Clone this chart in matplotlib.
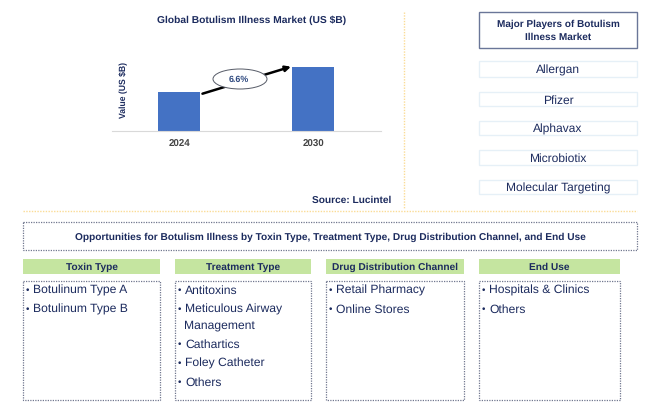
import matplotlib
matplotlib.use("Agg")
import matplotlib.pyplot as plt
from matplotlib.patches import Ellipse, Rectangle

W, H = 659, 415
NAVY = "#1c2b5e"
BLUE = "#4472c4"
GOLD = "#fbdc96"
GREEN = "#c5e5a0"
DOTS = "#70778f"
PALE = "#e6f0f7"

years = ["2024", "2030"]
values = [0.6, 1.0]
cagr = "6.6%"
players = ["Allergan", "Pfizer", "Alphavax", "Microbiotix", "Molecular Targeting"]
headers = ["Toxin Type", "Treatment Type", "Drug Distribution Channel", "End Use"]
toxin = ["Botulinum Type A", "Botulinum Type B"]
treatment = ["Antitoxins", "Meticulous Airway\nManagement", "Cathartics", "Foley Catheter", "Others"]
channel = ["Retail Pharmacy", "Online Stores"]
end_use = ["Hospitals & Clinics", "Others"]

plt.rcParams["font.family"] = ["Liberation Sans", "DejaVu Sans"]
plt.rcParams["text.hinting"] = "no_hinting"

fig = plt.figure(figsize=(W / 100, H / 100), dpi=100, facecolor="white")

# page layer in pixels, y going down
bg = fig.add_axes([0, 0, 1, 1])
bg.set_xlim(0, W)
bg.set_ylim(H, 0)
bg.axis("off")


def box(x0, y0, x1, y1, ec="none", fc="none", ls="-", lw=1.0):
    bg.add_patch(Rectangle((x0, y0), x1 - x0, y1 - y0, ec=ec, fc=fc, ls=ls, lw=lw))


def label(x, y, s, size, bold=False, ha="center"):
    # y is the text baseline
    bg.text(x, y, s, color=NAVY, fontsize=size, fontweight="bold" if bold else "normal",
            ha=ha, va="baseline")


# chart
ax = fig.add_axes([112 / W, 1 - 131 / H, 269 / W, 91 / H])
ax.patch.set_alpha(0)
ax.bar(range(len(years)), values, width=0.313, color=BLUE)
ax.set_xlim(-0.5, 1.507)
ax.set_ylim(0, 1.415)
ax.set_xticks(range(len(years)), years)
ax.tick_params(axis="x", length=0, pad=6, labelsize=7, labelcolor="#444444")
for tick in ax.get_xticklabels():
    tick.set_fontweight("bold")
ax.set_yticks([])
for side in ["top", "left", "right"]:
    ax.spines[side].set_visible(False)
ax.spines["bottom"].set_color("#d9d9d9")
ax.spines["bottom"].set_linewidth(0.8)
ax.annotate(
    "", xy=(1 - 0.165, values[1]), xytext=(0.175, values[0] - 0.02),
    arrowprops=dict(arrowstyle="-|>", color="black", lw=1.8, mutation_scale=8, shrinkA=0, shrinkB=0),
)

label(252, 23, "Global Botulism Illness Market (US $B)", 7.4, bold=True)
bg.text(123.5, 90, "Value (US $B)", color=NAVY, fontsize=6.2, fontweight="bold",
        rotation=90, ha="center", va="center")
label(352, 202.5, "Source: Lucintel", 7.3, bold=True)

# ellipse sits above the arrow
over = fig.add_axes([0, 0, 1, 1])
over.set_xlim(0, W)
over.set_ylim(H, 0)
over.axis("off")
over.add_patch(Ellipse((240, 79), 54, 20, ec="#555a66", fc="white", lw=0.7))
over.text(239, 79.5, cagr, color="#2f4a80", fontsize=6.4, fontweight="bold", ha="center", va="center")

# dividers
bg.plot([404, 404], [12, 208], color=GOLD, lw=1, ls=(0, (1, 1)))
bg.plot([23, 637], [211, 211], color=GOLD, lw=1, ls=(0, (1, 1)))

# players panel
box(479, 12, 637, 48, ec="#6a7698", fc="white", lw=1)
label(558, 26.5, "Major Players of Botulism", 7.2, bold=True)
label(558, 40, "Illness Market", 7.2, bold=True)
player_tops = [61, 92, 121, 150, 180]
player_bottoms = [77, 106, 135, 165, 194]
player_base = [74, 103.5, 133, 162, 191.5]
for name, top, bottom, base in zip(players, player_tops, player_bottoms, player_base):
    box(479, top, 637, bottom, ec=PALE, fc="white", lw=1)
    label(558, base, name, 8.65)

# opportunities banner
box(23, 222, 637, 250, ec=DOTS, ls=(0, (1, 1)), lw=0.9)
label(330, 240, "Opportunities for Botulism Illness by Toxin Type, Treatment Type, "
      "Drug Distribution Channel, and End Use", 7.3, bold=True)

# segment columns
col_left = [23, 175, 326, 479]
col_right = [160, 311, 464, 620]
row_base = [293.5, 312.5, 347.5, 366.5, 385.5]
for i, items in enumerate([toxin, treatment, channel, end_use]):
    x0, x1 = col_left[i], col_right[i]
    box(x0, 259, x1, 274, fc=GREEN)
    label((x0 + x1) / 2, 269.5, headers[i], 7.25, bold=True)
    box(x0, 281, x1, 400, ec=DOTS, ls=(0, (1, 1)), lw=0.9)
    for item, y in zip(items, row_base):
        label(x0 + 3, y - 0.5, "•", 7, ha="left")
        lines = item.split("\n")
        label(x0 + 10, y, lines[0], 8.7, ha="left")
        if len(lines) > 1:
            label(x0 + 9, y + 16, lines[1], 8.7, ha="left")

fig.savefig("out.png", dpi=100)
